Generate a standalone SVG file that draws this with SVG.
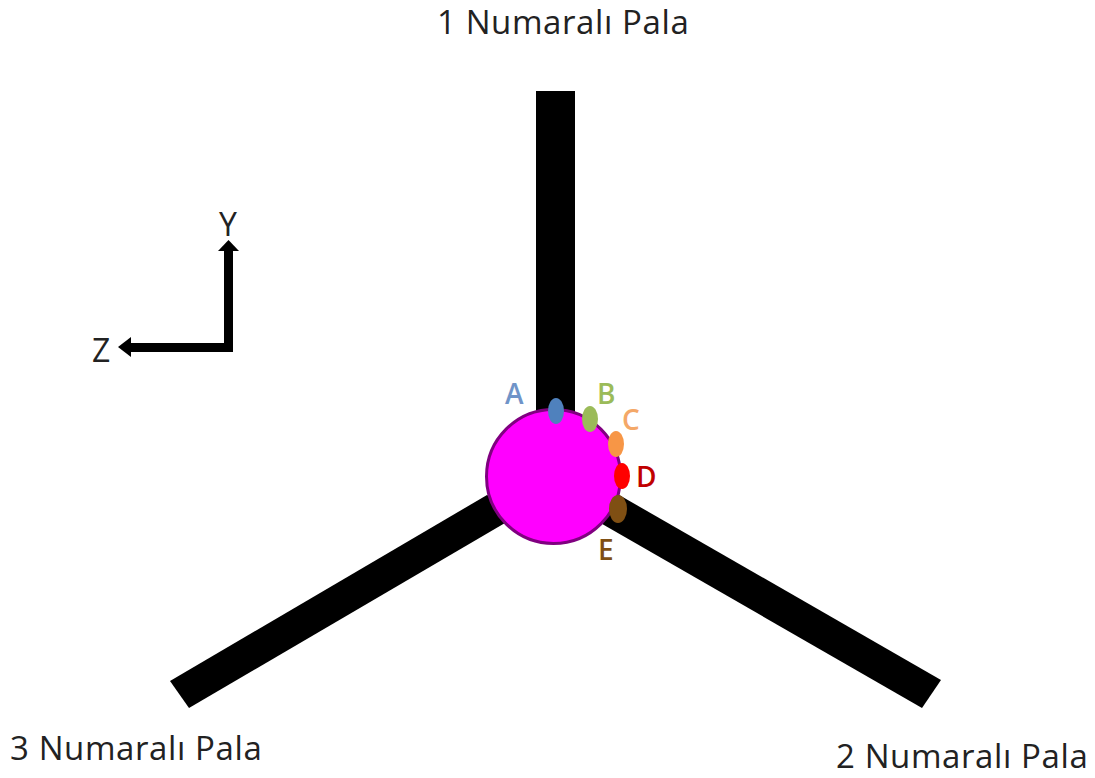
<svg xmlns="http://www.w3.org/2000/svg" width="1095" height="778" viewBox="0 0 1095 778">
<style>
.t{font-family:"Open Sans","Noto Sans",sans-serif;font-size:33px;letter-spacing:.6px;fill:#222}
.a{font-family:"Open Sans","Noto Sans",sans-serif;font-size:32px;fill:#222}
.l{font-family:"Open Sans","Noto Sans",sans-serif;font-size:28px;font-weight:600}
.b{fill:#000}
</style>
<rect width="1095" height="778" fill="#fff"/>
<g id="blades">
<rect class="b" x="536" y="91" width="39" height="330"/>
<polygon class="b" points="170,681 487,495 520,510 505,523 189,708"/>
<polygon class="b" points="600,484 941,680 922,708 590,517"/>
</g>
<g id="hub"><circle cx="553.500" cy="476.500" r="67" fill="#f0f" stroke="#800080" stroke-width="3"/></g>
<g id="connectors">
<path d="M228.500 352V248M233 347.500H128" fill="none" stroke="#000" stroke-width="9"/>
<polygon points="228.500,240 239,251 218,251"/>
<polygon points="118,347 131,337 131,357"/>
</g>
<g id="A"><ellipse cx="556" cy="411" rx="8" ry="13" fill="#4f81bd"/><text class="l" x="505" y="404" fill="#6f94c8">A</text></g>
<g id="B"><ellipse cx="590" cy="419" rx="8" ry="13" fill="#9bbb59"/><text class="l" x="597" y="404" fill="#9bbb59">B</text></g>
<g id="C"><ellipse cx="616" cy="444" rx="8" ry="13" fill="#f79646"/><text class="l" x="622" y="430" fill="#f4a868">C</text></g>
<g id="D"><ellipse cx="622" cy="476" rx="8" ry="13" fill="#f00"/><text class="l" x="636" y="487" fill="#c00000">D</text></g>
<g id="E"><ellipse cx="618" cy="509" rx="9" ry="14" fill="#7f4f13"/><text class="l" x="598" y="560" fill="#7f4f13">E</text></g>
<g id="labels">
<text class="t" x="437" y="34">1 Numaralı Pala</text>
<text class="t" x="10" y="760">3 Numaralı Pala</text>
<text class="t" x="836" y="768">2 Numaralı Pala</text>
<text class="a" x="219" y="236">Y</text>
<text class="a" x="92" y="362">Z</text>
</g>
</svg>
